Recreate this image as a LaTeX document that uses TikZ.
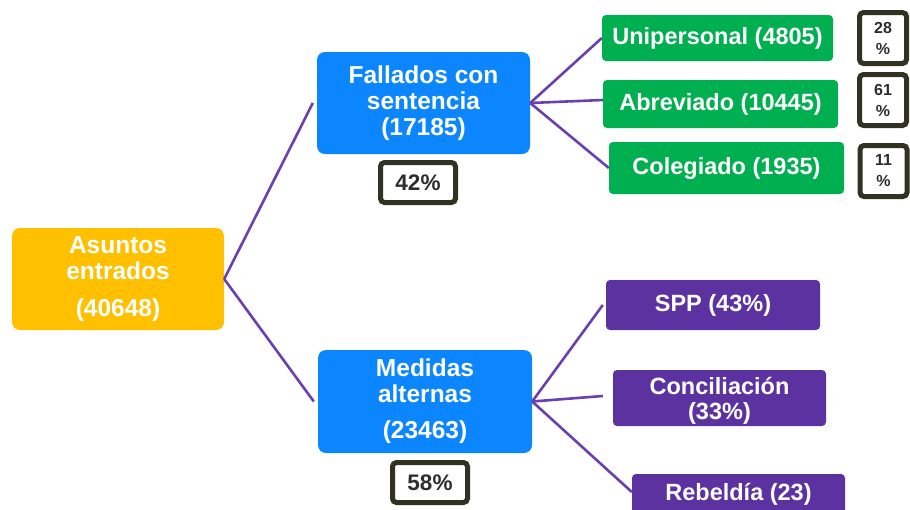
\documentclass[tikz,border=0pt]{standalone}
\usepackage{fontspec}
\setmainfont{Liberation Sans}
\definecolor{cyellow}{RGB}{255,192,0}
\definecolor{cblue}{RGB}{12,134,255}
\definecolor{cgreen}{RGB}{0,176,80}
\definecolor{cpurple}{RGB}{91,50,160}
\definecolor{cline}{RGB}{106,64,176}
\definecolor{cborder}{RGB}{50,50,35}
\definecolor{ctext}{RGB}{45,45,45}
\newcommand{\lowertext}[1]{\raisebox{-3pt}[\height][\depth]{#1}}
\tikzset{
  mainbox/.style={fill=#1, rounded corners=8pt, text=white, align=center, inner sep=0pt,
    font=\fontsize{24.5}{26}\selectfont\bfseries},
  leafbox/.style={fill=#1, rounded corners=4pt, text=white, align=center, inner sep=0pt,
    font=\fontsize{23.5}{25}\selectfont\bfseries},
  pctbox/.style={draw=cborder, line width=5pt, fill=white, rounded corners=4pt, text=ctext,
    minimum width=75pt, minimum height=40pt, inner sep=0pt, font=\fontsize{22.5}{24}\selectfont\bfseries},
  smallpct/.style={draw=cborder, line width=5pt, fill=white, rounded corners=4pt, text=ctext, align=center,
    minimum width=47pt, minimum height=51pt, inner sep=0pt, font=\fontsize{16}{21}\selectfont\bfseries},
  link/.style={draw=cline, line width=2.6pt},
}
\begin{document}
\begin{tikzpicture}[x=1pt,y=-1pt]
\clip (0,0) rectangle (910,509);
\fill[white] (0,0) rectangle (910,509);

% main nodes
\node[mainbox=cyellow, minimum width=212pt, minimum height=102pt] (asu) at (118,279)
  {Asuntos\\entrados\\[11pt](40648)};
\node[mainbox=cblue, minimum width=213pt, minimum height=102pt] (fal) at (423.5,103)
  {Fallados con\\sentencia\\(17185)};
\node[mainbox=cblue, minimum width=214pt, minimum height=103pt] (med) at (425,401.5)
  {Medidas\\alternas\\[10pt](23463)};

\node[pctbox] (p42) at (418,182.5) {42\%};
\node[pctbox] (p58) at (430,482.5) {58\%};

% green leaves
\node[leafbox=cgreen, minimum width=231pt, minimum height=46pt] (uni) at (717.5,38) {Unipersonal (4805)};
\node[leafbox=cgreen, minimum width=235pt, minimum height=48pt] (abr) at (720.5,104) {Abreviado (10445)};
\node[leafbox=cgreen, minimum width=235pt, minimum height=52pt] (col) at (726.5,168) {Colegiado (1935)};

\node[smallpct] (p28) at (883,38) {28\\\%};
\node[smallpct] (p61) at (883,100) {61\\\%};
\node[smallpct] (p11) at (883.5,171) {11\\\%};

% purple leaves
\node[leafbox=cpurple, minimum width=214pt, minimum height=50pt] (spp) at (713,305) {SPP (43\%)};
\node[leafbox=cpurple, minimum width=213pt, minimum height=56pt] (con) at (719.5,398)
  {\lowertext{Conciliación}\\\lowertext{(33\%)}};
\node[leafbox=cpurple, minimum width=213pt, minimum height=40pt] (reb) at (738.5,494) {Rebeldía (23)};

% connectors
\draw[link] (asu.east) -- ([xshift=-4pt]fal.west);
\draw[link] (asu.east) -- ([xshift=-4pt]med.west);
\draw[link] (fal.east) -- (uni.west);
\draw[link] (fal.east) -- ([yshift=4pt]abr.west);
\draw[link] (fal.east) -- (col.west);
\draw[link] (med.east) -- ([xshift=-3pt]spp.west);
\draw[link] (med.east) -- ([xshift=-10pt,yshift=2pt]con.west);
\draw[link] (med.east) -- ([yshift=2pt]reb.west);
\end{tikzpicture}
\end{document}
